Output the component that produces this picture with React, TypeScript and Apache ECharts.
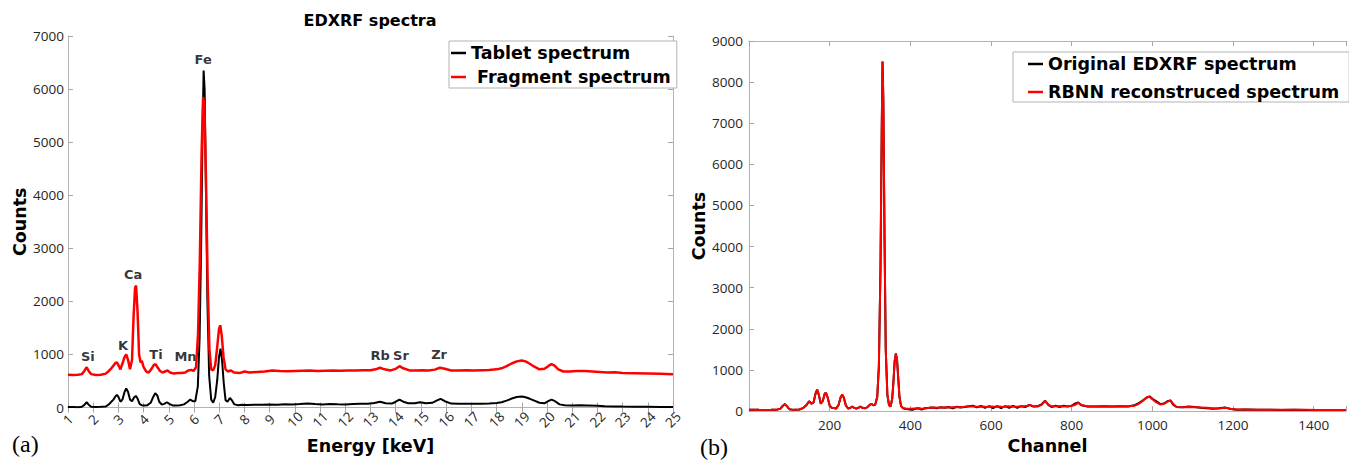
import React, { useEffect, useRef } from 'react';
import * as echarts from 'echarts';

// ---- (a) EDXRF spectra: [energy keV, counts]
const tabletSpectrum: [number, number][] = [
  [1.0, 10], [1.2, 12], [1.4, 8], [1.55, 15], [1.65, 50], [1.74, 100], [1.82, 55], [1.92, 15], [2.1, 10], [2.3, 14],
  [2.5, 20], [2.62, 60], [2.72, 110], [2.8, 150], [2.88, 210], [2.94, 240], [3.0, 200], [3.08, 110], [3.16, 150], [3.24, 290],
  [3.31, 360], [3.38, 300], [3.46, 150], [3.54, 120], [3.62, 190], [3.69, 220], [3.76, 170], [3.84, 70], [3.92, 45], [4.02, 40],
  [4.15, 45], [4.28, 90], [4.38, 200], [4.46, 270], [4.54, 230], [4.62, 110], [4.72, 55], [4.82, 70], [4.92, 100], [5.02, 70],
  [5.15, 40], [5.3, 38], [5.45, 45], [5.6, 60], [5.75, 110], [5.85, 150], [5.95, 120], [6.05, 120], [6.15, 400], [6.22, 1300],
  [6.28, 3000], [6.34, 5300], [6.38, 6350], [6.42, 6000], [6.47, 4200], [6.53, 2000], [6.6, 600], [6.68, 150], [6.76, 90], [6.84, 200],
  [6.92, 520], [6.99, 950], [7.05, 1110], [7.11, 900], [7.18, 450], [7.25, 140], [7.33, 110], [7.42, 180], [7.5, 140], [7.6, 60],
  [7.75, 45], [7.9, 55], [8.1, 50], [8.4, 55], [8.7, 52], [9.0, 60], [9.3, 55], [9.6, 62], [9.9, 58], [10.2, 65],
  [10.5, 75], [10.8, 65], [11.1, 60], [11.4, 66], [11.7, 62], [12.0, 60], [12.3, 65], [12.6, 70], [12.9, 72], [13.15, 85],
  [13.38, 110], [13.6, 80], [13.85, 75], [14.0, 110], [14.15, 150], [14.3, 110], [14.5, 80], [14.75, 80], [14.97, 100], [15.2, 80],
  [15.45, 90], [15.62, 130], [15.78, 165], [15.95, 120], [16.2, 75], [16.5, 72], [16.8, 70], [17.1, 70], [17.4, 72], [17.7, 78],
  [18.0, 85], [18.2, 100], [18.4, 130], [18.6, 170], [18.8, 200], [19.0, 210], [19.15, 195], [19.3, 170], [19.5, 130], [19.7, 90],
  [19.9, 80], [20.05, 120], [20.18, 150], [20.32, 120], [20.5, 60], [20.7, 45], [21.0, 40], [21.3, 42], [21.6, 38], [22.0, 32],
  [22.3, 25], [22.7, 22], [23.0, 18], [23.5, 15], [24.0, 14], [24.5, 12], [25.0, 12],
];

const fragmentSpectrum: [number, number][] = [
  [1.0, 620], [1.2, 615], [1.4, 620], [1.55, 630], [1.65, 690], [1.74, 760], [1.82, 690], [1.92, 630], [2.1, 615], [2.3, 620],
  [2.5, 640], [2.62, 690], [2.72, 740], [2.8, 790], [2.88, 840], [2.94, 850], [3.0, 800], [3.08, 720], [3.16, 830], [3.24, 950],
  [3.31, 1000], [3.38, 900], [3.46, 720], [3.54, 900], [3.6, 1700], [3.66, 2250], [3.7, 2300], [3.76, 1800], [3.82, 1000], [3.88, 850],
  [3.93, 880], [4.0, 760], [4.1, 680], [4.2, 660], [4.3, 720], [4.4, 800], [4.47, 820], [4.55, 760], [4.65, 690], [4.75, 660],
  [4.85, 680], [4.95, 700], [5.05, 660], [5.2, 640], [5.35, 650], [5.5, 650], [5.65, 660], [5.78, 700], [5.88, 710], [5.98, 690],
  [6.08, 760], [6.16, 1400], [6.23, 2800], [6.3, 4800], [6.36, 5850], [6.41, 5700], [6.47, 4400], [6.54, 2400], [6.61, 1100], [6.68, 720],
  [6.76, 700], [6.84, 800], [6.92, 1150], [6.99, 1480], [7.04, 1550], [7.1, 1350], [7.17, 950], [7.25, 720], [7.35, 680], [7.45, 700],
  [7.6, 660], [7.8, 650], [8.0, 680], [8.2, 660], [8.5, 670], [8.8, 680], [9.1, 700], [9.4, 690], [9.7, 685], [10.0, 690],
  [10.3, 695], [10.6, 700], [10.9, 690], [11.2, 695], [11.5, 700], [11.8, 695], [12.1, 700], [12.4, 700], [12.7, 705], [13.0, 705],
  [13.2, 720], [13.38, 750], [13.55, 720], [13.8, 700], [14.0, 730], [14.15, 780], [14.3, 740], [14.55, 700], [14.8, 700], [15.05, 705],
  [15.3, 700], [15.55, 715], [15.75, 750], [15.95, 730], [16.2, 700], [16.5, 700], [16.8, 705], [17.1, 700], [17.4, 705], [17.7, 710],
  [18.0, 720], [18.2, 740], [18.4, 780], [18.6, 830], [18.8, 870], [19.0, 885], [19.15, 870], [19.3, 830], [19.5, 770], [19.7, 720],
  [19.9, 730], [20.05, 780], [20.18, 820], [20.3, 790], [20.45, 720], [20.65, 680], [20.9, 680], [21.2, 690], [21.5, 690], [21.8, 680],
  [22.1, 670], [22.4, 660], [22.7, 665], [23.0, 650], [23.5, 645], [24.0, 640], [24.5, 635], [25.0, 630],
];

// element annotations: [energy keV, counts, symbol]
const elementLabels: [number, number, string][] = [
  [1.79, 968, 'Si'], [3.18, 1173, 'K'], [3.58, 2514, 'Ca'], [4.49, 1006, 'Ti'], [5.66, 968, 'Mn'],
  [6.36, 6555, 'Fe'], [13.38, 987, 'Rb'], [14.21, 987, 'Sr'], [15.72, 1006, 'Zr'],
];

// ---- (b) channel spectra: [channel, counts]
const originalSpectrum: [number, number][] = [
  [0, 30], [10, 35], [25, 30], [40, 28], [55, 30], [70, 35], [78, 60], [84, 130], [89, 170], [94, 120],
  [100, 45], [110, 30], [125, 40], [135, 80], [142, 140], [149, 240], [155, 180], [160, 210], [165, 430], [169, 520],
  [173, 400], [178, 180], [183, 250], [188, 430], [191, 440], [195, 330], [200, 130], [205, 80], [210, 75], [216, 60],
  [222, 150], [227, 330], [231, 400], [235, 330], [240, 140], [246, 60], [251, 80], [256, 110], [261, 80], [266, 60],
  [271, 80], [276, 110], [281, 80], [287, 70], [293, 90], [299, 150], [303, 180], [308, 140], [313, 160], [318, 350],
  [322, 1100], [326, 3500], [329, 6800], [331, 8500], [333, 7600], [336, 4200], [339, 1500], [343, 400], [347, 150], [351, 110],
  [355, 300], [358, 700], [361, 1200], [364, 1400], [367, 1250], [370, 800], [373, 350], [377, 120], [382, 70], [390, 50],
  [400, 40], [405, 30], [412, 55], [420, 70], [428, 40], [436, 70], [446, 80], [455, 90], [465, 70], [475, 95],
  [485, 80], [495, 100], [505, 70], [515, 105], [525, 85], [535, 100], [545, 120], [555, 130], [565, 90], [575, 125],
  [585, 80], [595, 120], [605, 75], [615, 120], [625, 70], [635, 120], [645, 80], [655, 125], [665, 80], [675, 120],
  [685, 100], [695, 150], [705, 110], [715, 115], [725, 160], [734, 250], [742, 150], [750, 100], [760, 130], [770, 100],
  [780, 130], [790, 110], [800, 130], [808, 180], [816, 210], [824, 140], [840, 110], [860, 110], [880, 115], [900, 110],
  [920, 115], [940, 110], [955, 140], [965, 190], [975, 250], [985, 320], [993, 360], [1000, 300], [1010, 240], [1020, 170],
  [1030, 190], [1037, 240], [1045, 260], [1052, 150], [1060, 100], [1075, 95], [1090, 110], [1105, 100], [1120, 80], [1135, 70],
  [1150, 60], [1165, 70], [1181, 85], [1195, 50], [1210, 35], [1230, 38], [1260, 30], [1290, 33], [1320, 28], [1350, 30],
  [1380, 26], [1410, 27], [1440, 24], [1480, 24],
];

const reconstructedSpectrum: [number, number][] = [
  [0, 30], [10, 35], [25, 30], [40, 28], [55, 30], [70, 35], [78, 60], [84, 130], [89, 165], [94, 120],
  [100, 45], [110, 30], [125, 40], [135, 80], [142, 140], [149, 240], [155, 180], [160, 210], [165, 430], [169, 525],
  [173, 400], [178, 180], [183, 250], [188, 430], [191, 445], [195, 330], [200, 130], [205, 80], [210, 75], [216, 60],
  [222, 150], [227, 330], [231, 405], [235, 330], [240, 140], [246, 60], [251, 80], [256, 110], [261, 80], [266, 60],
  [271, 80], [276, 110], [281, 80], [287, 70], [293, 90], [299, 150], [303, 180], [308, 140], [313, 160], [318, 350],
  [322, 1100], [326, 3500], [329, 6800], [331, 8500], [333, 7600], [336, 4200], [339, 1500], [343, 400], [347, 150], [351, 110],
  [355, 300], [358, 700], [361, 1200], [364, 1400], [367, 1250], [370, 800], [373, 350], [377, 120], [382, 70], [390, 60],
  [400, 60], [410, 65], [420, 70], [430, 60], [440, 70], [450, 80], [460, 85], [470, 80], [480, 90], [490, 95],
  [500, 90], [510, 100], [520, 95], [530, 100], [540, 110], [550, 120], [560, 110], [570, 105], [580, 110], [590, 100],
  [600, 110], [610, 105], [620, 110], [630, 100], [640, 115], [650, 110], [660, 105], [670, 110], [680, 115], [690, 130],
  [697, 150], [704, 120], [715, 110], [725, 150], [734, 250], [742, 160], [752, 110], [762, 115], [772, 125], [780, 110],
  [790, 115], [800, 130], [808, 150], [816, 200], [824, 150], [840, 110], [860, 110], [880, 115], [900, 110], [920, 115],
  [940, 120], [955, 130], [965, 170], [975, 240], [985, 330], [993, 350], [1000, 290], [1010, 210], [1020, 160], [1030, 180],
  [1038, 230], [1045, 260], [1052, 170], [1060, 100], [1075, 95], [1090, 100], [1105, 95], [1120, 90], [1135, 80], [1150, 70],
  [1160, 65], [1171, 70], [1181, 85], [1190, 60], [1210, 40], [1230, 40], [1260, 35], [1290, 35], [1320, 30], [1350, 30],
  [1380, 30], [1410, 28], [1440, 27], [1480, 25],
];

const seriesNames = {
  tablet: 'Tablet spectrum',
  fragment: 'Fragment spectrum',
  original: 'Original EDXRF spectrum',
  rbnn: 'RBNN reconstruced spectrum',
};

export default function App() {
  const ref = useRef<HTMLDivElement>(null);

  useEffect(() => {
    if (!ref.current) return;
    const chart = echarts.init(ref.current, null, { renderer: 'svg' });
    const tickFont = { fontFamily: 'Open Sans', fontSize: 13.5, color: '#262626' };
    const boldFont = { fontFamily: 'DejaVu Sans', fontWeight: 'bold' as const, color: '#000' };
    const axisLine = { show: true, lineStyle: { color: '#b3b3b3', width: 1 } };
    const axisTick = { show: true, inside: true, length: 5, lineStyle: { color: '#a6a6a6', width: 1 } };
    const plain = (v: number) => String(v);

    chart.setOption({
      animation: false,
      backgroundColor: '#ffffff',
      title: {
        text: 'EDXRF spectra',
        left: 370,
        textAlign: 'center',
        top: 12,
        padding: 0,
        textStyle: { ...boldFont, fontSize: 16 },
      },
      legend: [
        {
          data: [seriesNames.tablet, seriesNames.fragment],
          orient: 'vertical',
          left: 449,
          top: 41,
          padding: [3, 6, 2, 2],
          itemGap: 6,
          itemWidth: 15,
          itemHeight: 2.5,
          icon: 'rect',
          selectedMode: false,
          backgroundColor: '#fff',
          borderColor: '#b3b3b3',
          borderWidth: 1,
          formatter: (n: string) => (n === seriesNames.fragment ? '\u00a0' + n : n),
          textStyle: { ...boldFont, fontSize: 17.5, lineHeight: 18 },
        },
        {
          data: [seriesNames.original, seriesNames.rbnn],
          orient: 'vertical',
          left: 1013,
          top: 52,
          padding: [3, 10, 1, 15],
          itemGap: 10,
          itemWidth: 15,
          itemHeight: 2.5,
          icon: 'rect',
          selectedMode: false,
          backgroundColor: '#fff',
          borderColor: '#b3b3b3',
          borderWidth: 1,
          textStyle: { ...boldFont, fontSize: 17.5, lineHeight: 18 },
        },
      ],
      grid: [
        { left: 68, top: 36, width: 605, height: 376 },
        { left: 749, top: 41, right: 0, height: 377 },
      ],
      xAxis: [
        {
          type: 'value', gridIndex: 0, min: 1, max: 25, interval: 1,
          axisLine, axisTick, splitLine: { show: false },
          axisLabel: { ...tickFont, rotate: 45, align: 'center', verticalAlign: 'middle', margin: 12, formatter: plain },
          name: 'Energy [keV]', nameLocation: 'middle', nameGap: 28,
          nameTextStyle: { ...boldFont, fontSize: 17.5 },
        },
        {
          type: 'value', gridIndex: 0, position: 'top', min: 1, max: 25, interval: 1,
          axisLine, axisTick, splitLine: { show: false }, axisLabel: { show: false },
        },
        {
          type: 'value', gridIndex: 1, min: 0, max: 1480, interval: 200,
          axisLine, axisTick, splitLine: { show: false },
          axisLabel: {
            ...tickFont, margin: 7,
            formatter: (v: number) => (v > 0 && v % 200 === 0 ? String(v) : ''),
          },
          name: 'Channel', nameLocation: 'middle', nameGap: 22,
          nameTextStyle: { ...boldFont, fontSize: 17.5 },
        },
        {
          type: 'value', gridIndex: 1, position: 'top', min: 0, max: 1480, interval: 200,
          axisLine, axisTick, splitLine: { show: false }, axisLabel: { show: false },
        },
      ],
      yAxis: [
        {
          type: 'value', gridIndex: 0, min: 0, max: 7000, interval: 1000,
          axisLine, axisTick, splitLine: { show: false },
          axisLabel: { ...tickFont, margin: 4, formatter: plain },
          name: 'Counts', nameLocation: 'middle', nameGap: 38,
          nameTextStyle: { ...boldFont, fontSize: 17.5 },
        },
        {
          type: 'value', gridIndex: 0, position: 'right', min: 0, max: 7000, interval: 1000,
          axisLine, axisTick, splitLine: { show: false }, axisLabel: { show: false },
        },
        {
          type: 'value', gridIndex: 1, min: 0, max: 9000, interval: 1000,
          axisLine, axisTick, splitLine: { show: false },
          axisLabel: { ...tickFont, margin: 6, formatter: plain },
          name: 'Counts', nameLocation: 'middle', nameGap: 38,
          nameTextStyle: { ...boldFont, fontSize: 17.5 },
        },
      ],
      series: [
        {
          name: seriesNames.tablet, type: 'line', xAxisIndex: 0, yAxisIndex: 0,
          data: tabletSpectrum, showSymbol: false, symbol: 'none',
          lineStyle: { color: '#000', width: 2 }, itemStyle: { color: '#000' },
        },
        {
          name: seriesNames.fragment, type: 'line', xAxisIndex: 0, yAxisIndex: 0,
          data: fragmentSpectrum, showSymbol: false, symbol: 'none',
          lineStyle: { color: '#ff0000', width: 2.5 }, itemStyle: { color: '#ff0000' },
        },
        {
          name: 'elements', type: 'scatter', xAxisIndex: 0, yAxisIndex: 0,
          data: elementLabels, symbolSize: 0, silent: true,
          label: {
            show: true, position: 'inside',
            formatter: (p: any) => p.data[2],
            ...boldFont, fontSize: 13,
          },
        },
        {
          name: seriesNames.original, type: 'line', xAxisIndex: 2, yAxisIndex: 2,
          data: originalSpectrum, showSymbol: false, symbol: 'none',
          lineStyle: { color: '#000', width: 2 }, itemStyle: { color: '#000' },
        },
        {
          name: seriesNames.rbnn, type: 'line', xAxisIndex: 2, yAxisIndex: 2,
          data: reconstructedSpectrum, showSymbol: false, symbol: 'none',
          lineStyle: { color: '#ff0000', width: 2 }, itemStyle: { color: '#ff0000' },
        },
      ],
      graphic: [
        { type: 'text', left: 12, top: 432, style: { text: '(a)', font: '24px "Liberation Serif"', fill: '#000' } },
        { type: 'text', left: 700, top: 435, style: { text: '(b)', font: '24px "Liberation Serif"', fill: '#000' } },
      ],
    });

    return () => chart.dispose();
  }, []);

  return (
    <div
      ref={ref}
      style={{ position: 'fixed', left: 0, top: 0, width: 1349, height: 460 }}
    />
  );
}
